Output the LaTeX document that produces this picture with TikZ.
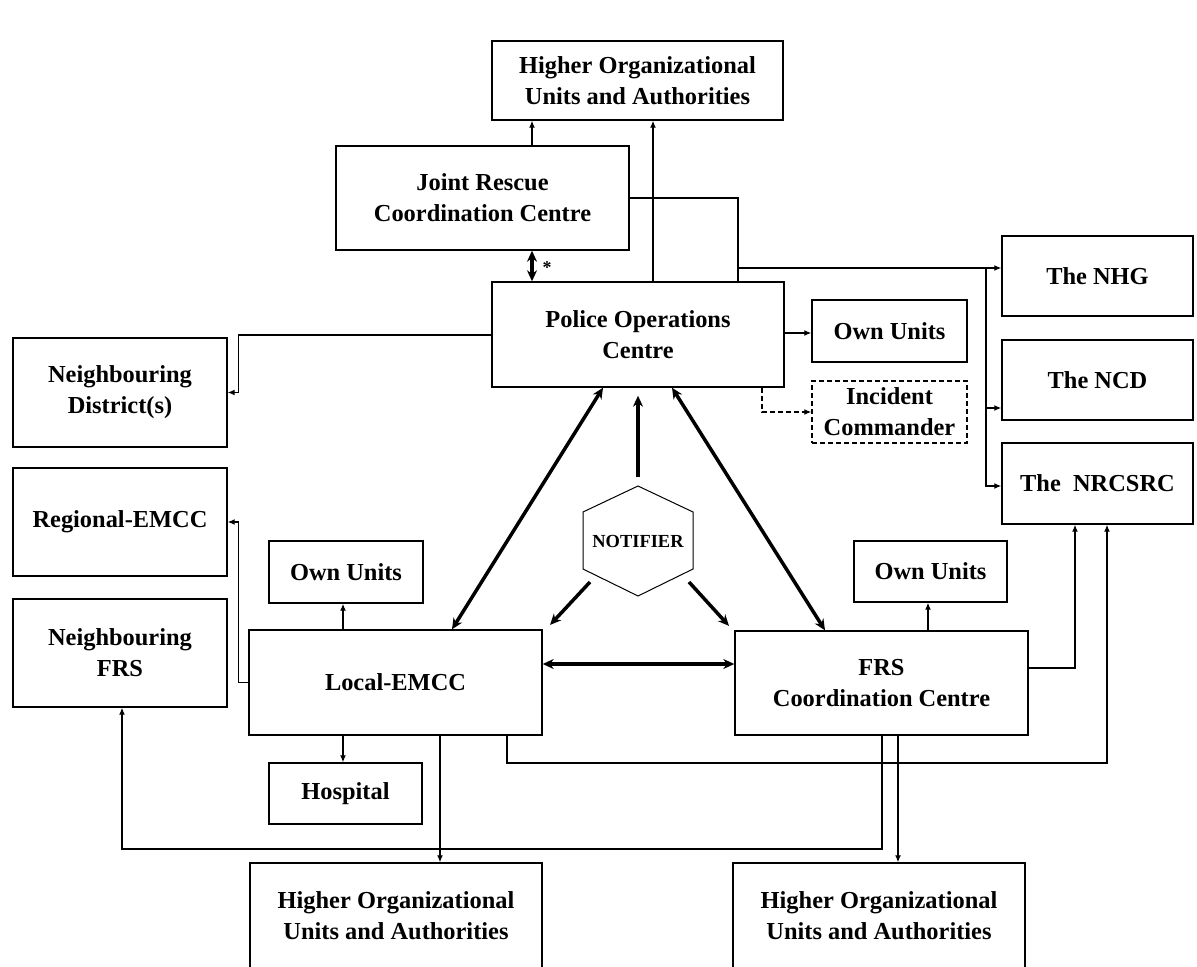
\documentclass[tikz,border=0pt]{standalone}
\usepackage{fontspec}
\setmainfont{Liberation Serif}
\usetikzlibrary{arrows.meta}
\begin{document}
\begin{tikzpicture}[x=1bp,y=-1bp,
  box/.style 2 args={draw, line width=1.4bp, inner sep=0pt, align=center,
    font=\bfseries\fontsize{24.5}{31}\selectfont, minimum width=#1bp, minimum height=#2bp},
  conn/.style={line width=1.3bp},
  arr/.style={conn, -{Latex[length=7bp,width=6bp]}},
  dashline/.style={dash pattern=on 5bp off 3bp},
  dbl/.style={line width=3.5bp, {Stealth[length=11bp,width=10bp]}-{Stealth[length=11bp,width=10bp]}},
  one/.style={line width=3.5bp, -{Stealth[length=11bp,width=10bp]}}]
\useasboundingbox (0,0) rectangle (1197,967);

% boxes
\node[box={291}{79}] (tophou) at (637.5,80.5) {Higher Organizational\\Units and Authorities};
\node[box={293}{104}] (jrcc) at (482.5,198) {Joint Rescue\\Coordination Centre};
\node[box={292}{105}] (police) at (638,334.5) {Police Operations\\Centre};
\node[box={155}{62}] (ownP) at (889.5,331) {Own Units};
\node[box={155}{62}, dashline] (inc) at (889.5,412) {Incident\\Commander};
\node[box={191}{80}] (nhg) at (1097.5,276) {The NHG};
\node[box={191}{80}] (ncd) at (1097.5,380) {The NCD};
\node[box={191}{81}] (nrcsrc) at (1097.5,483.5) {The\ \ NRCSRC};
\node[box={214}{109}] (nd) at (120,392.5) {Neighbouring\\District(s)};
\node[box={214}{108}] (reg) at (120,522) {Regional-EMCC};
\node[box={214}{108}] (nfrs) at (120,653) {Neighbouring\\FRS};
\node[box={154}{62}] (ownL) at (346,572) {Own Units};
\node[box={293}{105}] (lemcc) at (395.5,682.5) {Local-EMCC};
\node[box={153}{61}] (hosp) at (345.5,793.5) {Hospital};
\node[box={293}{104}] (frs) at (881.5,683) {FRS\\Coordination Centre};
\node[box={153}{61}] (ownF) at (930.5,571.5) {Own Units};
\node[box={292}{106}] (bhou1) at (396,916) {Higher Organizational\\Units and Authorities};
\node[box={292}{106}] (bhou2) at (879,916) {Higher Organizational\\Units and Authorities};

% notifier hexagon
\coordinate (hN) at (638,486);
\coordinate (hNE) at (693,512);
\coordinate (hSE) at (693,569);
\coordinate (hS) at (638,596);
\coordinate (hSW) at (583,569);
\coordinate (hNW) at (583,512);
\draw[line width=1bp] (hN) -- (hNE) -- (hSE) -- (hS) -- (hSW) -- (hNW) -- cycle;
\node[font=\bfseries\fontsize{18.5}{20}\selectfont, inner sep=0pt] (notifier) at (638,541) {NOTIFIER};

% thin connectors
\draw[arr] (532,0 |- jrcc.north) -- (532,0 |- tophou.south);
\draw[arr] (653,0 |- police.north) -- (653,0 |- tophou.south);
\draw[conn] (jrcc.east) -- (738,0 |- jrcc.east) -- (738,0 |- police.north);
\coordinate (j1) at (738,268);
\coordinate (j2) at (986,268);
\draw[arr] (j1) -- (j1 -| nhg.west);
\draw[arr] (j2) |- (ncd.west |- 0,408);
\draw[arr] (j2) |- (nrcsrc.west |- 0,486);
\draw[arr] (police.east |- 0,333) -- (ownP.west |- 0,333);
\draw[arr, dashline] (762,0 |- police.south) |- (inc.west);
\draw[arr] (police.west |- 0,335) -| ([xshift=11bp]nd.east) -- (nd.east);
\draw[arr] (lemcc.west) -| ([xshift=11bp]reg.east) -- (reg.east);
\draw[arr] (343,0 |- lemcc.north) -- (343,0 |- ownL.south);
\draw[arr] (343,0 |- lemcc.south) -- (343,0 |- hosp.north);
\draw[arr] (440,0 |- lemcc.south) -- (440,0 |- bhou1.north);
\draw[arr] (507,0 |- lemcc.south) |- (1107,763) -- (1107,0 |- nrcsrc.south);
\draw[arr] (frs.east |- 0,668) -| (1075,0 |- nrcsrc.south);
\draw[arr] (928,0 |- frs.north) -- (928,0 |- ownF.south);
\draw[arr] (882,0 |- frs.south) -- (882,849) -| (122,0 |- nfrs.south);
\draw[arr] (898,0 |- frs.south) -- (898,0 |- bhou2.north);

% thick connectors
\draw[dbl] (532,0 |- jrcc.south) -- (532,0 |- police.north);
\node[font=\bfseries\fontsize{18}{18}\selectfont, inner sep=0pt] (star) at (547,268) {*};
\draw[one] ([yshift=9bp]hN) -- ([yshift=-8bp]police.south);
\draw[one, shorten >=6bp] ([xshift=7bp,yshift=-13bp]hSW) -- (546,0 |- lemcc.north);
\draw[one, shorten >=6bp] ([xshift=-4bp,yshift=-13bp]hSE) -- (733,0 |- frs.north);
\draw[dbl] (603,0 |- police.south) -- (452,0 |- lemcc.north);
\draw[dbl] (672,0 |- police.south) -- (825,0 |- frs.north);
\draw[dbl] (lemcc.east |- 0,664) -- (frs.west |- 0,664);
\end{tikzpicture}
\end{document}
